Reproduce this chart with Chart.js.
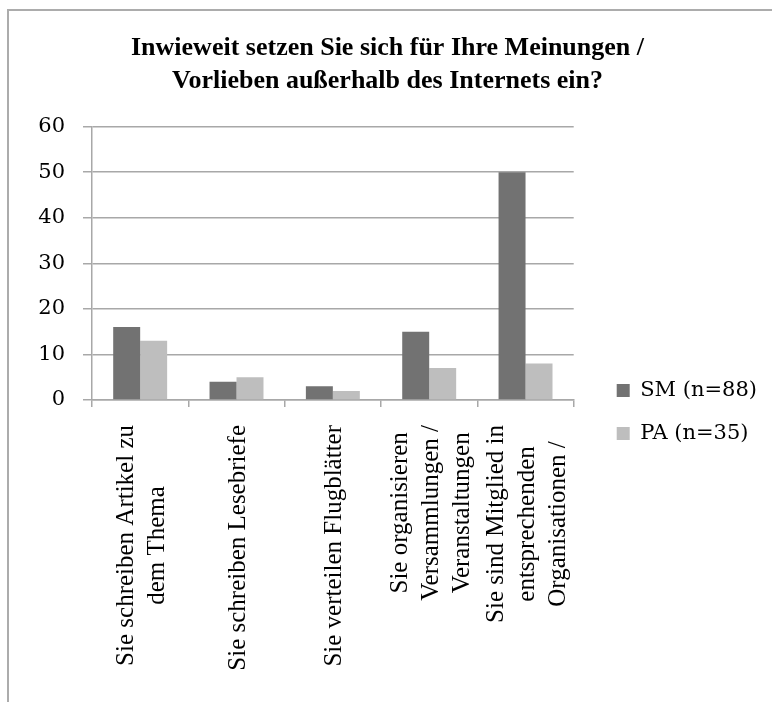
<!DOCTYPE html>
<html>
<head>
<meta charset="utf-8">
<script src="https://cdn.jsdelivr.net/npm/chart.js@4"></script>
<style>
  html, body { margin: 0; padding: 0; background: #ffffff; }
  canvas { display: block; }
</style>
</head>
<body>
<canvas id="chart" width="772" height="702"></canvas>
<script>
// Survey answers: how people stand up for their views outside the internet
const categories = [
  ['Sie schreiben Artikel zu', 'dem Thema'],
  ['Sie schreiben Lesebriefe'],
  ['Sie verteilen Flugblätter'],
  ['Sie organisieren', 'Versammlungen /', 'Veranstaltungen'],
  ['Sie sind Mitglied in', 'entsprechenden', 'Organisationen /']
];
const seriesNames = ['SM (n=88)', 'PA (n=35)'];
const smValues = [16, 4, 3, 15, 50];
const paValues = [13, 5, 2, 7, 8];
const yTickMin = 0;
const yTickMax = 60;
const yTickStep = 10;
const titleLines = [
  'Inwieweit setzen Sie sich für Ihre Meinungen /',
  'Vorlieben außerhalb des Internets ein?'
];

const gridColor = '#a8a8a8';

// Thin grey frame along the top and left edge of the canvas
const framePlugin = {
  id: 'frame',
  beforeDraw(chart) {
    const ctx = chart.ctx;
    ctx.save();
    ctx.strokeStyle = '#acacac';
    ctx.lineWidth = 2;
    ctx.beginPath();
    ctx.moveTo(8, chart.height);
    ctx.lineTo(8, 10);
    ctx.lineTo(chart.width, 10);
    ctx.stroke();
    ctx.restore();
  }
};

// Vertical, multi-line category labels, lines centred on each other
const categoryLabelPlugin = {
  id: 'categoryLabels',
  afterDraw(chart) {
    const ctx = chart.ctx;
    const xScale = chart.scales.x;
    const top = chart.chartArea.bottom + 25;
    const step = 31;
    ctx.save();
    ctx.font = '25px "Liberation Serif"';
    ctx.fillStyle = '#000000';
    ctx.textAlign = 'center';
    ctx.textBaseline = 'middle';
    categories.forEach((lines, i) => {
      const cx = xScale.getPixelForValue(i) + 2;
      const widest = Math.max(...lines.map(l => ctx.measureText(l).width));
      const cy = top + widest / 2;
      lines.forEach((line, j) => {
        const lx = cx + (j - (lines.length - 1) / 2) * step;
        ctx.save();
        ctx.translate(lx, cy);
        ctx.rotate(-Math.PI / 2);
        ctx.fillText(line, 0, 0);
        ctx.restore();
      });
    });
    ctx.restore();
  }
};

new Chart(document.getElementById('chart'), {
  type: 'bar',
  data: {
    labels: categories,
    datasets: [
      { label: seriesNames[0], data: smValues, backgroundColor: '#727272', borderWidth: 0 },
      { label: seriesNames[1], data: paValues, backgroundColor: '#bebebe', borderWidth: 0 }
    ]
  },
  options: {
    responsive: false,
    animation: false,
    devicePixelRatio: 1,
    layout: { padding: { left: 8, right: 5, top: 0, bottom: 236 } },
    datasets: {
      bar: { categoryPercentage: 0.56, barPercentage: 1.0 }
    },
    plugins: {
      title: {
        display: true,
        text: titleLines,
        color: '#000000',
        font: { family: '"Liberation Serif"', size: 26, weight: 'bold', lineHeight: 1.3 },
        padding: { top: 31, bottom: 28 }
      },
      legend: {
        position: 'right',
        align: 'end',
        labels: {
          color: '#000000',
          font: { family: '"DejaVu Serif"', size: 21 },
          boxWidth: 13,
          boxHeight: 13,
          padding: 22
        }
      },
      tooltip: { enabled: false }
    },
    scales: {
      x: {
        offset: true,
        grid: {
          display: true,
          drawOnChartArea: false,
          drawTicks: true,
          tickLength: 7,
          color: gridColor,
          lineWidth: 1.5
        },
        border: { display: true, color: gridColor, width: 1.5 },
        ticks: { display: false },
        afterFit(scale) { scale.height = 66; }
      },
      y: {
        min: yTickMin,
        max: yTickMax,
        ticks: {
          stepSize: yTickStep,
          color: '#000000',
          padding: 18,
          font: { family: '"DejaVu Serif"', size: 21 }
        },
        grid: {
          color: gridColor,
          lineWidth: 1.5,
          tickLength: 9
        },
        border: { display: true, color: gridColor, width: 1.5 },
        afterFit(scale) { scale.width = 84; }
      },
      // empty strip between the plot and the legend
      legendGap: {
        type: 'linear',
        position: 'right',
        display: false,
        afterFit(scale) { scale.width = 21; }
      }
    }
  },
  plugins: [framePlugin, categoryLabelPlugin]
});
</script>
</body>
</html>
